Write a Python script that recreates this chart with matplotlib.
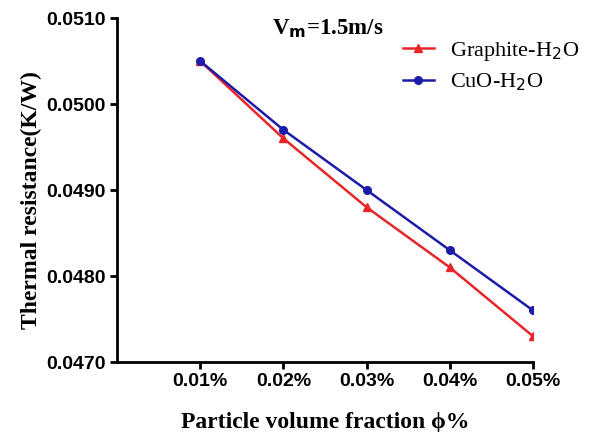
import matplotlib
matplotlib.use("Agg")
import matplotlib.pyplot as plt

categories = ["0.01%", "0.02%", "0.03%", "0.04%", "0.05%"]
graphite = [0.0505, 0.0496, 0.0488, 0.0481, 0.0473]
cuo = [0.0505, 0.0497, 0.0490, 0.0483, 0.0476]
yticks = [0.0470, 0.0480, 0.0490, 0.0500, 0.0510]

fig = plt.figure(figsize=(5.92, 4.32), dpi=100)
ax = fig.add_axes([0.1976, 0.162, 0.7027, 0.7963])
x = list(range(1, len(categories) + 1))

ax.plot(x, cuo, color="#1c1ca8", marker="o", markersize=5.5, lw=1.8, label="CuO-H$_2$O", zorder=3)
ax.plot(x, graphite, color="#e8262a", marker="^", markersize=5.5, lw=1.8, label="Graphite-H$_2$O", zorder=2)

ax.set_xlim(0, 5)
ax.set_ylim(0.0470, 0.0510)
ax.set_xticks(x)
ax.set_xticklabels(categories)
ax.set_yticks(yticks)
ax.set_yticklabels([f"{v:.4f}" for v in yticks])
for lab in ax.get_xticklabels() + ax.get_yticklabels():
    lab.set_fontfamily("Liberation Sans")
    lab.set_fontweight("bold")
    lab.set_fontsize(14)

for s in ["top", "right"]:
    ax.spines[s].set_visible(False)
for s in ["left", "bottom"]:
    ax.spines[s].set_linewidth(2)
ax.tick_params(direction="out", length=5, width=2, pad=3)

ax.set_xlabel("Particle volume fraction ϕ%", fontfamily="Liberation Serif", fontweight="bold", fontsize=17, labelpad=16)
ax.set_ylabel("Thermal resistance(K/W)", fontfamily="Liberation Serif", fontweight="bold", fontsize=17)
ax.yaxis.set_label_coords(-0.18, 0.47)

ax.text(0.507, 0.97, r"V$_\mathbf{m}$=1.5m/s", transform=ax.transAxes, ha="center", va="center",
        fontfamily="Liberation Serif", fontweight="bold", fontsize=16.5)

handles, labels = ax.get_legend_handles_labels()
leg = ax.legend(handles[::-1], labels[::-1], loc="upper right", bbox_to_anchor=(1.16, 0.995), frameon=False,
                prop={"family": "Liberation Serif", "size": 16}, handlelength=1.4, handletextpad=0.75,
                labelspacing=0.4)

fig.savefig("out.png", dpi=100)
